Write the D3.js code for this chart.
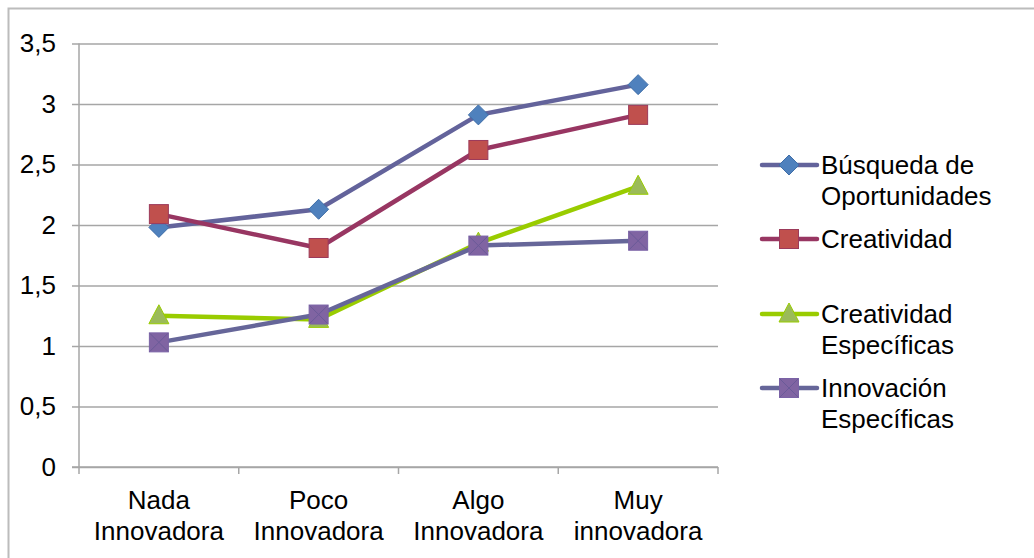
<!DOCTYPE html>
<meta charset="utf-8">
<style>
body { margin: 0; background: #fff; }
text { font-family: "Liberation Sans", Arial, sans-serif; fill: #000; }
.grid line { stroke: #a6a6a6; stroke-width: 1.5; }
</style>
<body>
<script src="https://cdn.jsdelivr.net/npm/d3@7"></script>
<script>

// data
var categories = [["Nada", "Innovadora"], ["Poco", "Innovadora"], ["Algo", "Innovadora"], ["Muy", "innovadora"]];
var yTicks = [0, 0.5, 1, 1.5, 2, 2.5, 3, 3.5];

var busqueda      = [1.98, 2.13, 2.91, 3.16];
var creatividad   = [2.09, 1.81, 2.62, 2.91];
var creatEspec    = [1.25, 1.22, 1.85, 2.32];
var innovEspec    = [1.03, 1.26, 1.83, 1.87];

var series = [
  {name: ["Búsqueda de", "Oportunidades"], values: busqueda, line: "#63639b", fill: "#4f81bd", stroke: "#3f6ea8", shape: "diamond"},
  {name: ["Creatividad"], values: creatividad, line: "#983662", fill: "#c0504d", stroke: "#9c3a5a", shape: "square"},
  {name: ["Creatividad", "Específicas"], values: creatEspec, line: "#99cc00", fill: "#9bbb59", stroke: "#99cc00", shape: "triangle"},
  {name: ["Innovación", "Específicas"], values: innovEspec, line: "#666699", fill: "#8064a2", stroke: "#7a62a6", shape: "xsquare"}
];

var W = 1034, H = 558;
var FS = 26;
var plot = {left: 79, right: 718, top: 43.5, bottom: 467};

var svg = d3.select("body").append("svg")
    .attr("width", W)
    .attr("height", H);

// outer chart border
svg.append("rect")
    .attr("x", 8.5).attr("y", 8.5)
    .attr("width", W + 10).attr("height", H + 10)
    .attr("fill", "none")
    .attr("stroke", "#bcbcbc")
    .attr("stroke-width", 2);

var x = d3.scaleBand()
    .domain(d3.range(categories.length))
    .range([plot.left, plot.right])
    .padding(0);

var y = d3.scaleLinear()
    .domain([0, 3.5])
    .range([plot.bottom, plot.top]);

// gridlines + y labels
var yAxis = svg.append("g")
    .attr("class", "grid")
    .attr("transform", "translate(" + plot.left + ",0)")
    .call(d3.axisLeft(y).tickValues(yTicks).tickSize(-(plot.right - plot.left)).tickFormat(function(d) {
      return String(d).replace(".", ",");
    }).tickPadding(0));
yAxis.select(".domain").remove();
yAxis.selectAll(".tick line").attr("x1", -7);
yAxis.selectAll(".tick text")
    .attr("x", -23)
    .attr("font-size", FS)
    .attr("font-family", "Liberation Sans, Arial, sans-serif");

// y axis line
svg.append("line")
    .attr("x1", plot.left).attr("x2", plot.left)
    .attr("y1", plot.top).attr("y2", plot.bottom)
    .attr("stroke", "#a6a6a6").attr("stroke-width", 1.5);

// x axis line and ticks
svg.append("line")
    .attr("x1", plot.left - 7).attr("x2", plot.right)
    .attr("y1", plot.bottom).attr("y2", plot.bottom)
    .attr("stroke", "#a6a6a6").attr("stroke-width", 1.5);

var bounds = d3.range(categories.length + 1).map(function(i) {
  return i < categories.length ? x(i) : x(i - 1) + x.bandwidth();
});
svg.selectAll(".xtick")
    .data(bounds)
  .enter().append("line")
    .attr("x1", function(d) { return d; })
    .attr("x2", function(d) { return d; })
    .attr("y1", plot.bottom)
    .attr("y2", plot.bottom + 7)
    .attr("stroke", "#a6a6a6").attr("stroke-width", 1.5);

var xl = svg.selectAll(".xlab")
    .data(categories)
  .enter().append("text")
    .attr("text-anchor", "middle")
    .attr("font-size", FS)
    .attr("x", function(d, i) { return x(i) + x.bandwidth() / 2; })
    .attr("y", 509);
xl.selectAll("tspan")
    .data(function(d) { return d; })
  .enter().append("tspan")
    .attr("x", function() { return d3.select(this.parentNode).attr("x"); })
    .attr("dy", function(d, i) { return i ? 31 : 0; })
    .text(function(d) { return d; });

var cx = function(d, i) { return x(i) + x.bandwidth() / 2; };

function drawMarker(g, s, px, py) {
  if (s.shape === "diamond") {
    g.append("path")
      .attr("d", "M" + px + "," + (py - 10) + "L" + (px + 10) + "," + py + "L" + px + "," + (py + 10) + "L" + (px - 10) + "," + py + "Z")
      .attr("fill", s.fill).attr("stroke", s.stroke).attr("stroke-width", 1);
  } else if (s.shape === "square" || s.shape === "xsquare") {
    g.append("rect")
      .attr("x", px - 9.5).attr("y", py - 9.5)
      .attr("width", 19).attr("height", 19)
      .attr("fill", s.fill).attr("stroke", s.stroke).attr("stroke-width", 1);
    if (s.shape === "xsquare") {
      g.append("path")
        .attr("d", "M" + (px - 9) + "," + (py - 9) + "L" + (px + 9) + "," + (py + 9) +
                   "M" + (px + 9) + "," + (py - 9) + "L" + (px - 9) + "," + (py + 9))
        .attr("stroke", "#6a5a98").attr("stroke-width", 1);
    }
  } else {
    g.append("path")
      .attr("d", "M" + px + "," + (py - 11) + "L" + (px + 10) + "," + (py + 8) + "L" + (px - 10) + "," + (py + 8) + "Z")
      .attr("fill", s.fill).attr("stroke", s.stroke).attr("stroke-width", 1);
  }
}

var line = d3.line()
    .x(cx)
    .y(function(d) { return y(d); });

series.forEach(function(s) {
  var g = svg.append("g");
  g.append("path")
      .datum(s.values)
      .attr("d", line)
      .attr("fill", "none")
      .attr("stroke", s.line)
      .attr("stroke-width", 4.5)
      .attr("stroke-linejoin", "round");
  s.values.forEach(function(v, i) {
    drawMarker(g, s, cx(v, i), y(v));
  });
});

// legend
var legendY = [165, 239, 314, 388];
series.forEach(function(s, k) {
  var g = svg.append("g");
  var ly = legendY[k];
  g.append("line")
      .attr("x1", 762).attr("x2", 817)
      .attr("y1", ly).attr("y2", ly)
      .attr("stroke", s.line).attr("stroke-width", 4.5)
      .attr("stroke-linecap", "round");
  drawMarker(g, s, 789, ly);
  var t = g.append("text")
      .attr("x", 821)
      .attr("y", ly + 9)
      .attr("font-size", FS);
  s.name.forEach(function(n, j) {
    t.append("tspan")
        .attr("x", 821)
        .attr("dy", j ? 31 : 0)
        .text(n);
  });
});

</script>
</body>
